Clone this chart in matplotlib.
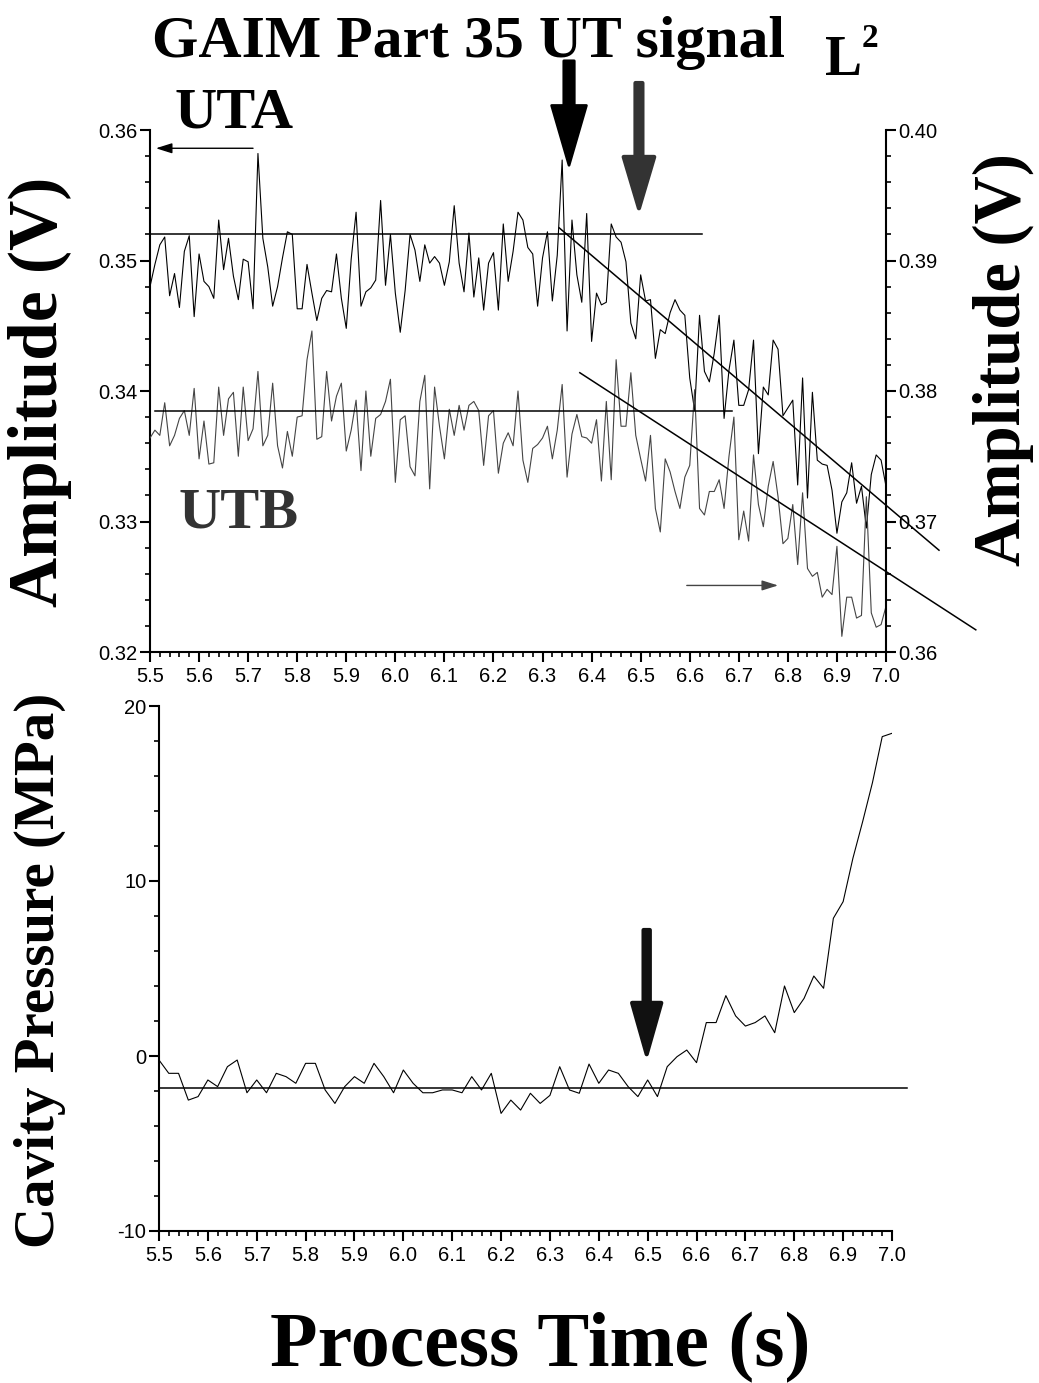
import numpy as np
import matplotlib
matplotlib.use("Agg")
from matplotlib import pyplot as plt
from matplotlib.ticker import MultipleLocator, FormatStrFormatter

# UT amplitudes sampled every 0.01 s from 5.50 s to 7.00 s
uta = [0.3480, 0.3497, 0.3512, 0.3518, 0.3473, 0.3490, 0.3464, 0.3507, 0.3519, 0.3457,
       0.3505, 0.3484, 0.3480, 0.3471, 0.3531, 0.3493, 0.3517, 0.3488, 0.3470, 0.3501,
       0.3499, 0.3463, 0.3582, 0.3517, 0.3495, 0.3465, 0.3480, 0.3502, 0.3522, 0.3520,
       0.3463, 0.3463, 0.3497, 0.3475, 0.3454, 0.3471, 0.3477, 0.3476, 0.3505, 0.3471,
       0.3448, 0.3501, 0.3537, 0.3465, 0.3476, 0.3479, 0.3485, 0.3546, 0.3481, 0.3520,
       0.3475, 0.3445, 0.3477, 0.3520, 0.3508, 0.3484, 0.3512, 0.3498, 0.3503, 0.3498,
       0.3481, 0.3499, 0.3542, 0.3498, 0.3476, 0.3521, 0.3472, 0.3502, 0.3462, 0.3498,
       0.3506, 0.3462, 0.3528, 0.3484, 0.3507, 0.3537,
       0.3531, 0.3510, 0.3505, 0.3465, 0.3502, 0.3522, 0.3469, 0.3504, 0.3577, 0.3446,
       0.3531, 0.3489, 0.3468, 0.3536, 0.3438, 0.3475, 0.3466, 0.3468, 0.3528, 0.3518,
       0.3514, 0.3499, 0.3452, 0.3440, 0.3489, 0.3469, 0.3470,
       0.3425, 0.3447, 0.3444, 0.3460, 0.3470, 0.3462, 0.3458, 0.3410, 0.3385, 0.3458,
       0.3415, 0.3407, 0.3429, 0.3458, 0.3379, 0.3416, 0.3439, 0.3389, 0.3389, 0.3401,
       0.3439, 0.3352, 0.3403,
       0.3397, 0.3439, 0.3432, 0.3381, 0.3387, 0.3393, 0.3328, 0.3410, 0.3318, 0.3399,
       0.3347, 0.3344, 0.3343, 0.3324, 0.3291, 0.3315, 0.3322, 0.3345, 0.3314, 0.3327,
       0.3295, 0.3336, 0.3351, 0.3347, 0.3327]

utb = [0.3764, 0.3770, 0.3766, 0.3791, 0.3758, 0.3766, 0.3779, 0.3785, 0.3766, 0.3802,
       0.3748, 0.3777, 0.3744, 0.3745, 0.3803, 0.3766, 0.3794, 0.3799, 0.3750, 0.3803,
       0.3762, 0.3771, 0.3815, 0.3758, 0.3766, 0.3806, 0.3758, 0.3741, 0.3769, 0.3750,
       0.3780, 0.3781, 0.3824, 0.3846, 0.3763, 0.3765, 0.3815, 0.3777, 0.3796, 0.3806,
       0.3754, 0.3770, 0.3793, 0.3739, 0.3800, 0.3750, 0.3779, 0.3782, 0.3792, 0.3809,
       0.3730, 0.3778, 0.3781, 0.3742, 0.3735, 0.3792, 0.3812, 0.3725, 0.3803, 0.3773,
       0.3748, 0.3786, 0.3766, 0.3789, 0.3770, 0.3789, 0.3792, 0.3785, 0.3743, 0.3781,
       0.3785, 0.3737, 0.3760, 0.3768, 0.3758, 0.3800,
       0.3747, 0.3730, 0.3756, 0.3759, 0.3764, 0.3773, 0.3748, 0.3770, 0.3805, 0.3734,
       0.3767, 0.3782, 0.3765, 0.3764, 0.3760, 0.3778, 0.3731, 0.3792, 0.3732, 0.3824,
       0.3773, 0.3773, 0.3814, 0.3766,
       0.3748, 0.3731, 0.3766, 0.3710, 0.3692, 0.3748, 0.3738, 0.3723, 0.3710, 0.3734,
       0.3743, 0.3801, 0.3710, 0.3705, 0.3723, 0.3723, 0.3732, 0.3710, 0.3750, 0.3780,
       0.3686, 0.3708, 0.3685, 0.3751, 0.3713, 0.3696,
       0.3727, 0.3746, 0.3719, 0.3683, 0.3687, 0.3713, 0.3667, 0.3722, 0.3664, 0.3658,
       0.3661, 0.3642, 0.3648, 0.3644, 0.3681, 0.3612, 0.3642, 0.3642, 0.3626, 0.3628,
       0.3719, 0.3630, 0.3619, 0.3621, 0.3635]

# cavity pressure sampled every 0.02 s
pressure = [-0.23, -0.99, -0.99, -2.52, -2.32, -1.37, -1.75, -0.61, -0.23, -2.10,
            -1.37, -2.10, -0.99, -1.18, -1.56, -0.42, -0.42, -1.94, -2.71, -1.75,
            -1.18, -1.56, -0.42, -1.18, -2.10, -0.80, -1.56, -2.10, -2.10, -1.94,
            -1.94, -2.10, -1.18, -1.94, -0.99, -3.28, -2.52, -3.09, -2.13, -2.71,
            -2.25, -0.61, -1.94, -2.13, -0.46, -1.56, -0.80, -0.99, -1.75, -2.32,
            -1.37, -2.32, -0.61, -0.04, 0.34, -0.38, 1.91, 1.91, 3.45, 2.29,
            1.71, 1.91, 2.29, 1.33, 4.00, 2.48, 3.29, 4.57, 3.87, 7.87,
            8.82, 11.3, 13.4, 15.62, 18.25, 18.44]

t_ut = 5.5 + 0.01 * np.arange(len(uta))
t_p = 5.5 + 0.02 * np.arange(len(pressure))

# reference / fitted lines (x pairs, y pairs)
uta_base_t, uta_base_v = [5.50, 6.625], [0.352, 0.352]
uta_fit_t, uta_fit_v = [6.334, 7.108], [0.3525, 0.3278]
utb_base_t, utb_base_v = [5.51, 6.687], [0.3785, 0.3785]
utb_fit_t, utb_fit_v = [6.376, 7.183], [0.3814, 0.3617]
p_base_t, p_base_v = [5.50, 7.03], [-1.8, -1.8]

plt.rcParams['font.family'] = 'Liberation Sans'
plt.rcParams['axes.unicode_minus'] = False

W, H = 1039, 1383
fig = plt.figure(figsize=(W / 100, H / 100), dpi=100)


def px(x, y):
    return x / W, 1 - y / H


ax = fig.add_axes([150 / W, 1 - 652 / H, 736 / W, 522 / H])
ax2 = ax.twinx()
axp = fig.add_axes([159 / W, 1 - 1231 / H, 733 / W, 525 / H])

ax.plot(t_ut, uta, color='black', lw=0.8)
ax2.plot(t_ut, utb, color='#444444', lw=0.8)
ax.plot(uta_base_t, uta_base_v, color='black', lw=1.1, clip_on=False)
ax.plot(uta_fit_t, uta_fit_v, color='black', lw=1.1, clip_on=False)
ax2.plot(utb_base_t, utb_base_v, color='black', lw=1.1, clip_on=False)
ax2.plot(utb_fit_t, utb_fit_v, color='black', lw=1.1, clip_on=False)

axp.plot(t_p, pressure, color='black', lw=0.8)
axp.plot(p_base_t, p_base_v, color='black', lw=1.1, clip_on=False)

ax.set_xlim(5.5, 7.0)
ax.set_ylim(0.32, 0.36)
ax2.set_ylim(0.36, 0.40)
axp.set_xlim(5.5, 7.0)
axp.set_ylim(-10, 20)

for a in (ax, ax2, axp):
    for s in a.spines.values():
        s.set_linewidth(1.5)
    a.tick_params(which='major', direction='out', length=7, width=1.5, labelsize=14.5, pad=2)
    a.tick_params(which='minor', direction='out', length=3.5, width=1.2)

ax.spines['top'].set_visible(False)
ax.spines['right'].set_visible(False)
ax2.spines['top'].set_visible(False)
ax2.spines['left'].set_visible(False)
ax2.spines['bottom'].set_visible(False)
axp.spines['top'].set_visible(False)
axp.spines['right'].set_visible(False)

for a in (ax, axp):
    a.xaxis.set_major_locator(MultipleLocator(0.1))
    a.xaxis.set_minor_locator(MultipleLocator(0.02))
    a.xaxis.set_major_formatter(FormatStrFormatter('%.1f'))
for a in (ax, ax2):
    a.yaxis.set_major_locator(MultipleLocator(0.01))
    a.yaxis.set_minor_locator(MultipleLocator(0.002))
    a.yaxis.set_major_formatter(FormatStrFormatter('%.2f'))
axp.yaxis.set_major_locator(MultipleLocator(10))
axp.yaxis.set_minor_locator(MultipleLocator(2))
axp.tick_params(axis='x', pad=4)
ax.tick_params(axis='x', pad=4)

# small direction arrows
ax.annotate('', xy=(5.512, 0.3586), xytext=(5.71, 0.3586),
            arrowprops=dict(arrowstyle='-|>,head_length=0.7,head_width=0.22', color='black',
                            lw=1, mutation_scale=14, shrinkA=0, shrinkB=0))
ax2.annotate('', xy=(6.78, 0.3651), xytext=(6.594, 0.3651),
             arrowprops=dict(arrowstyle='-|>,head_length=0.7,head_width=0.22', color='#444444',
                             lw=1, mutation_scale=14, shrinkA=0, shrinkB=0))

# big markers
ax.annotate('', xy=(6.354, 0.3573), xytext=(6.354, 0.3653), annotation_clip=False,
            arrowprops=dict(arrowstyle='simple,head_length=4.3,head_width=2.5,tail_width=0.75',
                            fc='black', ec='black', lw=2, joinstyle='round',
                            mutation_scale=10, shrinkA=0, shrinkB=0))
ax.annotate('', xy=(6.4965, 0.3540), xytext=(6.4965, 0.3636), annotation_clip=False,
            arrowprops=dict(arrowstyle='simple,head_length=3.7,head_width=2.2,tail_width=0.5',
                            fc='#333333', ec='#333333', lw=3, joinstyle='round', capstyle='round',
                            mutation_scale=10, shrinkA=0, shrinkB=0))
axp.annotate('', xy=(6.498, 0.1), xytext=(6.498, 7.2),
             arrowprops=dict(arrowstyle='simple,head_length=3.7,head_width=2.1,tail_width=0.45',
                             fc='#111111', ec='#111111', lw=3, joinstyle='round', capstyle='round',
                             mutation_scale=10, shrinkA=0, shrinkB=0))

serif = dict(family='Liberation Serif', weight='bold')
fig.text(*px(152, 57), 'GAIM Part 35 UT signal', fontsize=43, ha='left', va='baseline', **serif)
fig.text(*px(825, 75), 'L', fontsize=40, ha='left', va='baseline', **serif)
fig.text(*px(862, 47), '2', fontsize=24, ha='left', va='baseline', **serif)
fig.text(*px(175, 128), 'UTA', fontsize=42, ha='left', va='baseline', color='black', **serif)
fig.text(*px(178, 528), 'UTB', fontsize=42, ha='left', va='baseline', color='#333333', **serif)

fig.text(*px(40, 392), 'Amplitude (V)', fontsize=50, rotation=90, ha='center', va='center', **serif)
fig.text(*px(1003, 360), 'Amplitude (V)', fontsize=48, rotation=90, ha='center', va='center', **serif)
fig.text(*px(40, 970), 'Cavity Pressure (MPa)', fontsize=41, rotation=90, ha='center', va='center', **serif)
fig.text(*px(540, 1366), 'Process Time (s)', fontsize=56, ha='center', va='baseline', **serif)

fig.savefig('out.png', dpi=100)
